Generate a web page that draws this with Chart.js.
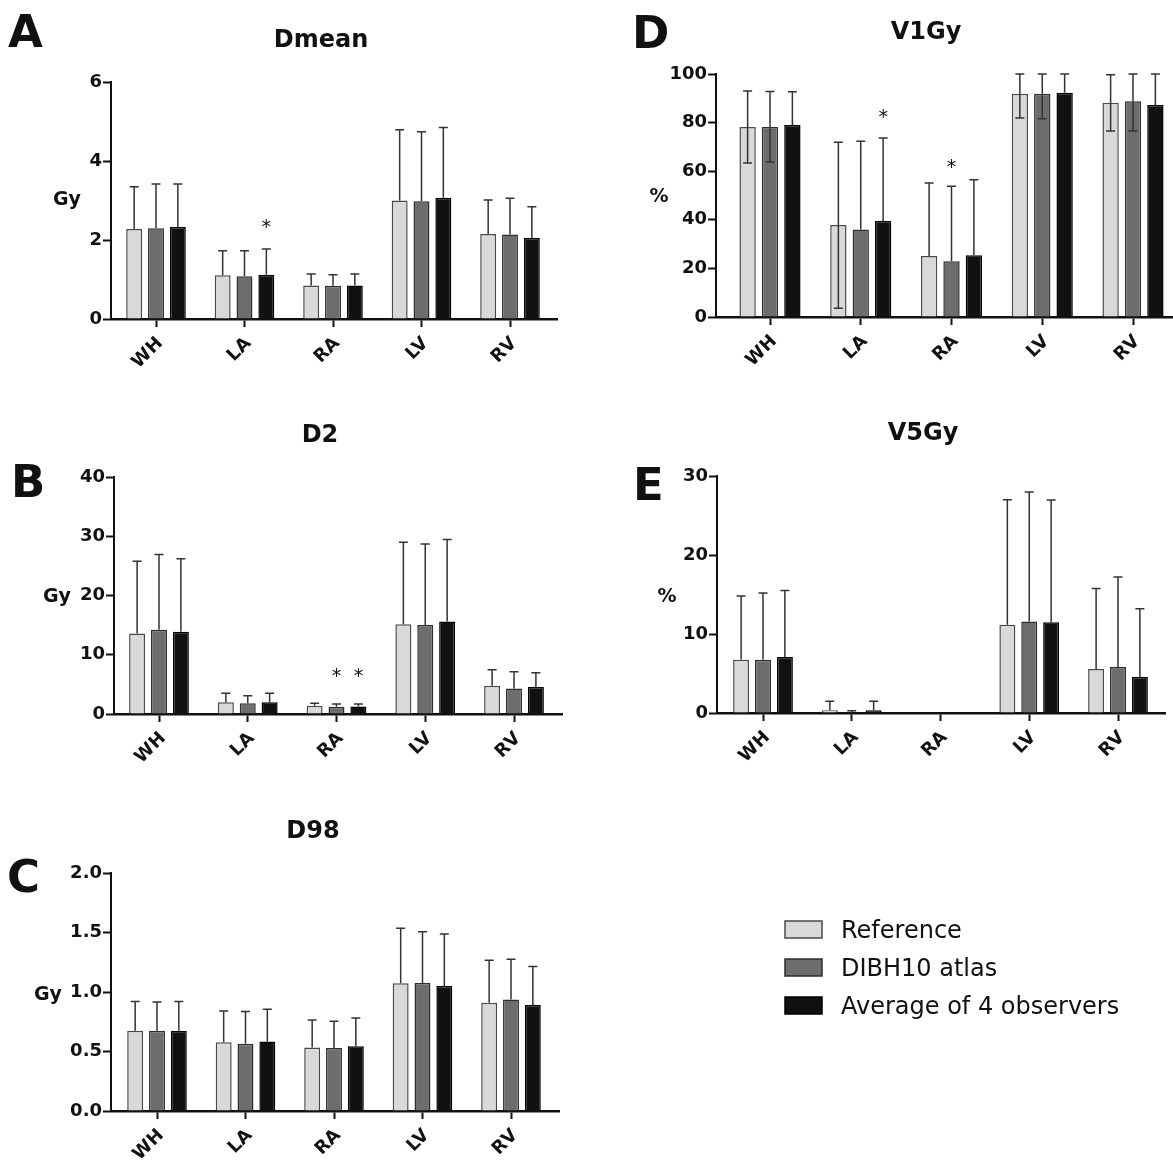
<!DOCTYPE html>
<html>
<head>
<meta charset="utf-8">
<title>Heart substructure dose: reference vs atlas vs observers</title>
<script src="https://cdn.jsdelivr.net/npm/chart.js@4.4.1/dist/chart.umd.min.js"></script>
<style>
  html, body { margin: 0; padding: 0; background: #fff; }
  #page { position: relative; width: 1173px; height: 1165px; overflow: hidden; }
  #page canvas { position: absolute; left: 0; top: 0; }
</style>
</head>
<body>
<div id="page">
  <canvas id="panelA" width="1173" height="1165"></canvas>
  <canvas id="panelB" width="1173" height="1165"></canvas>
  <canvas id="panelC" width="1173" height="1165"></canvas>
  <canvas id="panelD" width="1173" height="1165"></canvas>
  <canvas id="panelE" width="1173" height="1165"></canvas>
</div>
<script>
'use strict';

/* ---- data ---- */
const organs = ['WH', 'LA', 'RA', 'LV', 'RV'];
const seriesLabels = ['Reference', 'DIBH10 atlas', 'Average of 4 observers'];

// A: Dmean (Gy) – bar heights and top of error bar
const dmeanRef     = [2.28, 1.11, 0.85, 3.00, 2.15];
const dmeanAtlas   = [2.30, 1.08, 0.84, 2.98, 2.14];
const dmeanObs     = [2.33, 1.12, 0.85, 3.07, 2.05];
const dmeanRefHi   = [3.35, 1.73, 1.14, 4.79, 3.01];
const dmeanAtlasHi = [3.42, 1.73, 1.12, 4.74, 3.06];
const dmeanObsHi   = [3.42, 1.77, 1.14, 4.85, 2.84];
const dmeanStars   = [{ organ: 1, series: 2, value: 2.46 }];
const dmeanTicks   = [0, 6, 2];

// B: D2 (Gy)
const d2Ref     = [13.6, 2.0, 1.4, 15.15, 4.76];
const d2Atlas   = [14.2, 1.8, 1.23, 15.03, 4.3];
const d2Obs     = [13.9, 2.0, 1.28, 15.6, 4.54];
const d2RefHi   = [25.8, 3.5, 1.8, 29.0, 7.46];
const d2AtlasHi = [26.9, 3.1, 1.68, 28.7, 7.12];
const d2ObsHi   = [26.2, 3.5, 1.68, 29.46, 6.95];
const d2Stars   = [{ organ: 2, series: 1, value: 7.3 }, { organ: 2, series: 2, value: 7.3 }];
const d2Ticks   = [0, 40, 10];

// C: D98 (Gy)
const d98Ref     = [0.675, 0.577, 0.533, 1.073, 0.91];
const d98Atlas   = [0.675, 0.566, 0.53, 1.076, 0.936];
const d98Obs     = [0.675, 0.583, 0.544, 1.05, 0.89];
const d98RefHi   = [0.92, 0.84, 0.765, 1.535, 1.266];
const d98AtlasHi = [0.916, 0.837, 0.754, 1.507, 1.275];
const d98ObsHi   = [0.92, 0.855, 0.782, 1.487, 1.215];
const d98Ticks   = [0, 2, 0.5];

// D: V1Gy (%) – error bars in both directions
const v1Ref     = [78.2, 37.9, 25.1, 91.9, 88.2];
const v1Atlas   = [78.2, 36.0, 22.9, 91.9, 88.8];
const v1Obs     = [79.0, 39.5, 25.4, 92.3, 87.2];
const v1RefHi   = [93.0, 71.9, 55.1, 100, 99.7];
const v1AtlasHi = [92.8, 72.3, 53.8, 100, 100];
const v1ObsHi   = [92.7, 73.7, 56.5, 100, 100];
const v1RefLo   = [63.4, 3.6, null, 81.9, 76.5];
const v1AtlasLo = [63.8, null, null, 81.6, 76.5];
const v1Stars   = [{ organ: 1, series: 2, value: 84.4 }, { organ: 2, series: 1, value: 63.6 }];
const v1Ticks   = [0, 100, 20];

// E: V5Gy (%)
const v5Ref     = [6.74, 0.35, 0, 11.16, 5.56];
const v5Atlas   = [6.74, 0.1, 0, 11.58, 5.81];
const v5Obs     = [7.08, 0.35, 0, 11.5, 4.55];
const v5RefHi   = [14.8, 1.5, 0, 27.0, 15.75];
const v5AtlasHi = [15.2, 0.3, 0, 27.98, 17.23];
const v5ObsHi   = [15.5, 1.5, 0, 26.97, 13.19];
const v5Ticks   = [0, 30, 10];

/* ---- style ---- */
const PAGE_W = 1173;
const PAGE_H = 1165;
const Y_AXIS_W = 60;
const X_AXIS_H = 54;
const INK = '#111111';
const FONT = '"DejaVu Sans", "Liberation Sans", sans-serif';
const BAR_STYLE = [
  { fill: '#d9d9d9', border: '#4a4a4a' },
  { fill: '#6d6d6d', border: '#2e2e2e' },
  { fill: '#111111', border: '#000000' },
];

Chart.defaults.font.family = FONT;

/** Draws whiskers on top of (and for D, inside) each bar. */
function errorBars(hiSets, loSets) {
  return {
    id: 'errorBars',
    afterDatasetsDraw(chart) {
      const { ctx } = chart;
      const yScale = chart.scales.y;
      ctx.save();
      ctx.strokeStyle = '#333333';
      ctx.lineWidth = 1.5;
      const whisker = (x, y0, y1) => {
        ctx.beginPath();
        ctx.moveTo(x, y0);
        ctx.lineTo(x, y1);
        ctx.moveTo(x - 4.5, y1);
        ctx.lineTo(x + 4.5, y1);
        ctx.stroke();
      };
      hiSets.forEach((his, d) => {
        const meta = chart.getDatasetMeta(d);
        his.forEach((hi, i) => {
          const bar = meta.data[i];
          const value = chart.data.datasets[d].data[i];
          if (hi > value) whisker(bar.x, bar.y, yScale.getPixelForValue(hi));
          const lo = loSets && loSets[d] ? loSets[d][i] : null;
          if (lo !== null && lo !== undefined) whisker(bar.x, bar.y, yScale.getPixelForValue(lo));
        });
      });
      ctx.restore();
    },
  };
}

/** Panel letter, title, unit label, significance stars and (optionally) the legend. */
function panelText(t, stars, withLegend) {
  return {
    id: 'panelText',
    afterDraw(chart) {
      const { ctx } = chart;
      ctx.save();
      ctx.fillStyle = INK;
      ctx.textBaseline = 'alphabetic';

      ctx.font = `bold 45px ${FONT}`;
      ctx.textAlign = 'left';
      ctx.fillText(t.letter, t.letterAt[0], t.letterAt[1]);

      ctx.font = `bold 24px ${FONT}`;
      ctx.textAlign = 'center';
      ctx.fillText(t.title, t.titleAt[0], t.titleAt[1]);

      ctx.font = `bold 19px ${FONT}`;
      ctx.fillText(t.unit, t.unitAt[0], t.unitAt[1]);

      ctx.font = `19px ${FONT}`;
      (stars || []).forEach((s) => {
        const bar = chart.getDatasetMeta(s.series).data[s.organ];
        const y = chart.scales.y.getPixelForValue(s.value);
        ctx.fillText('*', bar.x, y + 11);
      });

      if (withLegend) {
        ctx.textAlign = 'left';
        ctx.font = `24px ${FONT}`;
        seriesLabels.forEach((label, k) => {
          const top = 921 + k * 38;
          ctx.fillStyle = BAR_STYLE[k].fill;
          ctx.fillRect(785, top, 37, 17);
          ctx.strokeStyle = BAR_STYLE[k].border;
          ctx.lineWidth = 1.5;
          ctx.strokeRect(785, top, 37, 17);
          ctx.fillStyle = INK;
          ctx.fillText(label, 841, top + 17);
        });
      }
      ctx.restore();
    },
  };
}

/**
 * Builds one grouped bar panel.
 * frame = plot area in page pixels plus the x of the first/last category tick.
 */
function renderPanel(canvasId, frame, yTicks, means, hiSets, loSets, text, stars, withLegend) {
  const step = (frame.lastTick - frame.firstTick) / (organs.length - 1);
  const xMin = -(frame.firstTick - frame.left) / step;
  const xMax = organs.length - 1 + (frame.right - frame.lastTick) / step;
  const tickFont = { family: FONT, size: 18, weight: 'bold' };
  const xAxisH = Math.min(X_AXIS_H, PAGE_H - frame.bottom);

  return new Chart(document.getElementById(canvasId), {
    type: 'bar',
    data: {
      labels: organs.map((_, i) => i),
      datasets: means.map((values, k) => ({
        label: seriesLabels[k],
        data: values,
        backgroundColor: BAR_STYLE[k].fill,
        borderColor: BAR_STYLE[k].border,
        borderWidth: 1.5,
        categoryPercentage: 0.74,
        barPercentage: 0.73,
      })),
    },
    options: {
      responsive: false,
      animation: false,
      devicePixelRatio: 1,
      events: [],
      layout: {
        padding: {
          left: frame.left - Y_AXIS_W,
          top: frame.top,
          right: PAGE_W - frame.right,
          bottom: PAGE_H - frame.bottom - xAxisH,
        },
      },
      plugins: {
        legend: { display: false },
        tooltip: { enabled: false },
      },
      scales: {
        x: {
          type: 'linear',
          min: xMin,
          max: xMax,
          offset: false,
          afterBuildTicks: (scale) => { scale.ticks = organs.map((_, i) => ({ value: i })); },
          afterFit: (scale) => { scale.height = xAxisH; },
          ticks: {
            autoSkip: false,
            includeBounds: false,
            minRotation: 45,
            maxRotation: 45,
            padding: 6,
            labelOffset: 4,
            color: INK,
            font: tickFont,
            callback: (v) => organs[v],
          },
          grid: { offset: false, drawOnChartArea: false, tickLength: 8, tickWidth: 2, tickColor: INK },
          border: { color: INK, width: 2.5 },
        },
        y: {
          min: yTicks[0],
          max: yTicks[1],
          afterFit: (scale) => { scale.width = Y_AXIS_W; },
          ticks: {
            stepSize: yTicks[2],
            padding: 1,
            color: INK,
            font: tickFont,
            callback: (v) => (yTicks[2] < 1 ? v.toFixed(1) : v),
          },
          grid: { drawOnChartArea: false, tickLength: 8, tickWidth: 2, tickColor: INK },
          border: { color: INK, width: 2 },
        },
      },
    },
    plugins: [errorBars(hiSets, loSets), panelText(text, stars, withLegend)],
  });
}

renderPanel('panelA',
  { left: 111, top: 82, right: 557, bottom: 319, firstTick: 156, lastTick: 510 },
  dmeanTicks,
  [dmeanRef, dmeanAtlas, dmeanObs],
  [dmeanRefHi, dmeanAtlasHi, dmeanObsHi], null,
  { letter: 'A', letterAt: [8, 47], title: 'Dmean', titleAt: [321, 47], unit: 'Gy', unitAt: [67, 205] },
  dmeanStars, false);

renderPanel('panelB',
  { left: 114, top: 477, right: 562, bottom: 714, firstTick: 159, lastTick: 514 },
  d2Ticks,
  [d2Ref, d2Atlas, d2Obs],
  [d2RefHi, d2AtlasHi, d2ObsHi], null,
  { letter: 'B', letterAt: [11, 497], title: 'D2', titleAt: [320, 442], unit: 'Gy', unitAt: [57, 602] },
  d2Stars, false);

renderPanel('panelC',
  { left: 111, top: 873, right: 559, bottom: 1111, firstTick: 157, lastTick: 511 },
  d98Ticks,
  [d98Ref, d98Atlas, d98Obs],
  [d98RefHi, d98AtlasHi, d98ObsHi], null,
  { letter: 'C', letterAt: [7, 892], title: 'D98', titleAt: [313, 838], unit: 'Gy', unitAt: [48, 1000] },
  [], true);

renderPanel('panelD',
  { left: 716, top: 74, right: 1173, bottom: 317, firstTick: 770, lastTick: 1133 },
  v1Ticks,
  [v1Ref, v1Atlas, v1Obs],
  [v1RefHi, v1AtlasHi, v1ObsHi], [v1RefLo, v1AtlasLo, null],
  { letter: 'D', letterAt: [632, 48], title: 'V1Gy', titleAt: [926, 39], unit: '%', unitAt: [659, 202] },
  v1Stars, false);

renderPanel('panelE',
  { left: 717, top: 476, right: 1165, bottom: 713, firstTick: 763, lastTick: 1118 },
  v5Ticks,
  [v5Ref, v5Atlas, v5Obs],
  [v5RefHi, v5AtlasHi, v5ObsHi], null,
  { letter: 'E', letterAt: [633, 500], title: 'V5Gy', titleAt: [923, 440], unit: '%', unitAt: [667, 602] },
  [], false);
</script>
</body>
</html>
